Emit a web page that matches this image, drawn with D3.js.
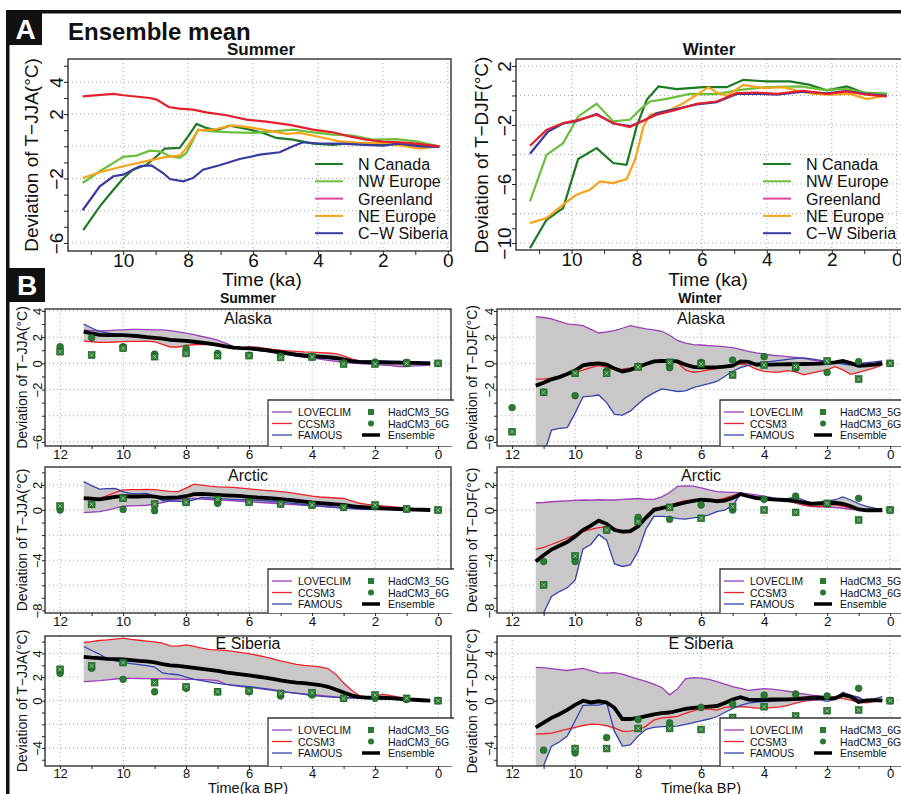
<!DOCTYPE html>
<html>
<head>
<meta charset="utf-8">
<title>Ensemble mean</title>
<script src="https://cdnjs.cloudflare.com/ajax/libs/d3/7.8.5/d3.min.js"></script>
<style>
  body { margin: 0; background: #fff; }
  svg { display: block; font-family: 'Liberation Sans', Arial, Helvetica, sans-serif; }
  .grid { stroke: #9c9c9c; stroke-width: 0.9; stroke-dasharray: 1,3; }
</style>
</head>
<body>
<svg></svg>
<script>
// ---- panel A: ensemble mean per region, [ka, deviation degC] ----
let regionsA = ['N Canada', 'NW Europe', 'Greenland', 'NE Europe', 'C-W Siberia']

let jjaNCanada = [[11.23,-5.2],[10.72,-3.73],[10.3,-2.7],[10,-2.0],[9.7,-1.45],[9.28,-1.14],[8.97,-0.62],[8.72,-0.14],[8.26,-0.1],[8.0,0.62],[7.74,1.39],[7.44,1.14],[7.13,0.99],[6.72,1.28],[6.2,1.08],[5.69,0.83],[5.28,0.52],[4.77,0.41],[4.15,0.17],[3.54,0.08],[2.92,0.21],[2.51,0.08],[1.49,0.2],[0.26,0]]
let jjaNWEurope = [[11.25,-2.28],[10.72,-1.55],[10.3,-1.03],[10,-0.66],[9.59,-0.58],[9.18,-0.27],[8.87,-0.31],[8.56,-0.62],[8.26,-0.72],[8.05,-0.41],[7.69,1.03],[7.23,0.93],[6.62,0.87],[6.0,0.83],[5.38,0.93],[4.77,1.03],[4.15,0.87],[3.54,0.72],[2.92,0.66],[2.31,0.41],[1.59,0.45],[0.97,0.31],[0.26,0]]
let jjaGreenland = [[11.25,3.1],[10.3,3.25],[10,3.17],[9.18,3.0],[8.97,2.9],[8.6,2.44],[8.26,2.34],[7.85,2.28],[7.44,2.11],[6.82,1.93],[6.2,1.66],[5.59,1.53],[4.87,1.33],[4.15,1.04],[3.54,0.87],[3.03,0.62],[2.51,0.41],[2.0,0.29],[1.49,0.25],[0.97,0.17],[0.26,0]]
let jjaNEEurope = [[11.25,-1.97],[10.72,-1.61],[10,-1.24],[9.18,-0.87],[8.67,-0.66],[8.26,-0.58],[8.05,-0.1],[7.69,0.99],[7.23,1.03],[6.62,1.3],[6.0,1.14],[5.38,0.93],[4.97,0.77],[4.56,0.83],[3.95,0.58],[3.33,0.31],[2.72,0.21],[2.0,0.21],[1.28,0],[0.87,-0.14],[0.26,0]]
let jjaCWSiberia = [[11.25,-3.97],[10.72,-2.48],[10.3,-1.86],[10,-1.76],[9.49,-1.24],[9.13,-1.18],[8.77,-1.66],[8.56,-2.03],[8.15,-2.17],[7.85,-1.97],[7.54,-1.45],[7.03,-1.18],[6.41,-0.79],[5.79,-0.52],[5.18,-0.37],[4.77,0],[4.46,0.25],[3.95,0.17],[3.33,0.17],[2.72,0.1],[2.0,0.04],[1.49,0.17],[0.87,0],[0.26,-0.04]]

let djfNCanada = [[11.28,-10.34],[10.77,-8.42],[10.26,-7.63],[9.8,-4.31],[9.23,-3.57],[8.72,-4.58],[8.31,-4.7],[8.0,-2.1],[7.69,-0.29],[7.33,0.61],[6.77,0.43],[5.95,0.56],[5.23,0.56],[4.72,1.06],[4.0,0.95],[3.28,0.95],[2.67,0.72],[2.15,0.34],[1.54,0.61],[1.03,0.2],[0.31,0.11]]
let djfNWEurope = [[11.28,-7.18],[10.77,-4.02],[10.26,-3.23],[9.8,-1.42],[9.23,-0.56],[8.72,-1.76],[8.21,-1.65],[7.85,-0.86],[7.59,-0.41],[7.08,-0.23],[6.36,0.11],[5.54,0.09],[4.82,0.38],[4.0,0.56],[2.97,0.61],[2.26,0.38],[1.54,0.43],[0.92,0.16],[0.31,0.11]]
let djfGreenland = [[11.28,-3.41],[10.77,-2.33],[10.26,-1.87],[9.85,-1.69],[9.23,-1.31],[8.72,-1.87],[8.21,-2.14],[7.79,-1.69],[7.38,-1.31],[6.77,-0.97],[6.15,-0.56],[5.54,-0.41],[4.92,0.16],[4.31,0.2],[3.69,0.11],[2.87,0.32],[2.15,0.11],[1.54,0.27],[0.92,0.05],[0.31,-0.07]]
let djfNEEurope = [[11.28,-8.65],[10.77,-8.31],[10.2,-7.29],[9.85,-6.73],[9.44,-6.39],[9.13,-5.82],[8.72,-5.94],[8.31,-5.67],[8.05,-4.36],[7.79,-2.1],[7.59,-1.31],[6.97,-0.97],[6.56,-0.52],[6.15,0.05],[5.79,0.56],[5.54,0.2],[5.23,-0.02],[4.72,0.72],[4.1,0.5],[3.49,0.56],[2.97,0.27],[2.56,0.11],[2.05,0.05],[1.44,0.11],[0.92,-0.25],[0.31,0]]
let djfCWSiberia = [[11.28,-3.95],[10.72,-2.44],[10.26,-1.9],[9.85,-1.75],[9.23,-1.25],[8.72,-1.9],[8.21,-2.08],[7.79,-1.72],[7.38,-1.2],[6.77,-0.9],[6.15,-0.6],[5.54,-0.45],[4.92,0.1],[4.31,0.12],[3.69,0.05],[2.87,0.25],[2.15,0.15],[1.54,0.3],[0.92,0.1],[0.31,-0.02]]

// ---- panel B: models on a shared time axis (ka BP) ----
let tB = [11.25,11,10.75,10.5,10.25,10,9.75,9.5,9.25,9,8.75,8.5,8.25,8,7.75,7.5,7.25,7,6.75,6.5,6.25,6,5.75,5.5,5.25,5,4.75,4.5,4.25,4,3.75,3.5,3.25,3,2.75,2.5,2.25,2,1.75,1.5,1.25,1,0.75,0.5,0.25]
let models = ['LOVECLIM', 'CCSM3', 'FAMOUS']

let alaskaJJA_LOVECLIM = [2.54,2.5,2.47,2.5,2.53,2.56,2.59,2.6,2.58,2.56,2.55,2.5,2.4,2.3,2.2,2.05,1.92,1.78,1.55,1.3,1.2,1.15,1.1,1.03,0.95,0.85,0.7,0.55,0.47,0.4,0.32,0.23,0.16,0.08,0.01,-0.02,-0.05,-0.09,-0.13,-0.18,-0.24,-0.24,-0.2,-0.17,-0.13]
let alaskaJJA_CCSM3 = [1.7,1.65,1.6,1.6,1.63,1.66,1.68,1.68,1.7,1.65,1.45,1.25,1.25,1.38,1.42,1.45,1.43,1.35,1.25,1.15,1.2,1.25,1.24,1.15,1.06,1.0,0.96,0.91,0.87,0.85,0.82,0.79,0.74,0.57,0.35,0.17,0.13,0.11,0.08,0.06,0.04,0.02,0,-0.02,-0.05]
let alaskaJJA_FAMOUS = [3.0,2.7,2.43,2.33,2.25,2.2,2.15,2.1,2.06,2.0,1.93,1.82,1.75,1.7,1.65,1.58,1.5,1.42,1.35,1.27,1.18,1.09,1.0,0.91,0.82,0.73,0.64,0.55,0.49,0.45,0.4,0.36,0.32,0.26,0.19,0.18,0.18,0.18,0.18,0.16,0.15,0.13,0.11,0.1,0.08]
let alaskaJJA_Ens = [2.42,2.28,2.17,2.15,2.16,2.16,2.12,2.07,2.0,1.95,1.88,1.8,1.76,1.71,1.65,1.58,1.5,1.41,1.3,1.2,1.16,1.14,1.09,1.02,0.93,0.85,0.76,0.67,0.6,0.56,0.51,0.47,0.41,0.3,0.17,0.11,0.1,0.09,0.08,0.06,0.05,0.04,0.03,0.02,0.0]

let alaskaDJF_LOVECLIM = [3.56,3.5,3.4,3.2,3.02,2.95,2.88,2.6,2.32,2.4,2.5,2.68,2.88,2.75,2.63,2.55,2.45,2.15,1.75,1.55,1.43,1.4,1.36,1.31,1.26,1.2,1.07,0.92,0.8,0.72,0.62,0.57,0.52,0.46,0.38,0.26,0.16,0.12,0.08,0.04,0,0,0,0,0]
let alaskaDJF_CCSM3 = [-1.2,-1.18,-1.12,-1.0,-0.88,-0.7,-0.52,-0.33,-0.15,-0.3,-0.48,-0.45,-0.35,-0.22,-0.05,0.12,0.16,0.12,0.05,-0.5,-0.68,-0.62,-0.5,-0.38,-0.24,-0.12,-0.03,-0.15,-0.45,-0.62,-0.67,-0.66,-0.55,-0.65,-0.88,-0.75,-0.62,-0.5,-0.25,-0.5,-0.84,-0.68,-0.52,-0.35,-0.13]
let alaskaDJF_FAMOUS = [-8.5,-7.0,-5.1,-4.96,-4.9,-3.8,-2.55,-2.5,-2.42,-3.0,-3.9,-3.95,-3.65,-3.1,-2.6,-2.25,-1.95,-2.05,-2.15,-2.1,-1.85,-1.7,-1.55,-1.38,-1.0,-0.6,-0.33,-0.15,0.0,0.08,0.15,0.22,0.3,0.38,0.42,0.35,0.25,0.15,0.05,-0.05,-0.13,-0.05,0.05,0.12,0.18]
let alaskaDJF_Ens = [-1.7,-1.48,-1.22,-1.05,-0.82,-0.55,-0.15,-0.05,0.0,-0.1,-0.4,-0.62,-0.5,-0.28,-0.05,0.15,0.18,0.18,0.15,-0.1,-0.27,-0.3,-0.31,-0.31,-0.25,-0.18,0.15,0.12,-0.1,-0.1,-0.09,-0.08,-0.07,-0.06,-0.05,-0.04,-0.02,0.02,0.08,0.18,0.02,-0.18,-0.15,-0.1,0]

let arcticJJA_LOVECLIM = [-0.21,-0.17,-0.13,0.0,0.15,0.3,0.33,0.35,0.38,0.47,0.6,0.74,0.83,0.88,0.93,0.88,0.84,0.8,0.77,0.74,0.7,0.66,0.62,0.58,0.54,0.49,0.45,0.41,0.37,0.33,0.3,0.26,0.21,0.16,0.12,0.1,0.08,0.07,0.05,0.04,0.03,0.02,0.01,0,0]
let arcticJJA_CCSM3 = [0.93,0.93,0.93,1.15,1.38,1.6,1.62,1.63,1.65,1.62,1.55,1.48,1.46,1.75,2.07,1.98,1.9,1.85,1.83,1.81,1.75,1.68,1.62,1.57,1.52,1.47,1.4,1.3,1.2,1.1,1.04,1.0,0.96,0.92,0.73,0.54,0.45,0.39,0.32,0.27,0.2,0.14,0.08,0.04,0]
let arcticJJA_FAMOUS = [2.26,1.95,1.66,1.7,1.73,1.45,1.3,1.3,1.33,1.1,0.76,0.72,0.69,0.66,0.8,1.0,0.96,0.93,0.89,0.85,0.82,0.8,0.77,0.74,0.68,0.63,0.57,0.5,0.44,0.38,0.31,0.25,0.19,0.15,0.11,0.08,0.05,0.04,0.03,0.03,0.02,0.02,0.01,0.01,0]
let arcticJJA_Ens = [0.95,0.9,0.85,0.95,1.05,1.1,1.08,1.08,1.1,1.06,0.97,0.98,1.0,1.1,1.27,1.29,1.24,1.2,1.17,1.15,1.1,1.05,1.0,0.97,0.92,0.87,0.81,0.74,0.67,0.6,0.55,0.5,0.45,0.41,0.32,0.24,0.2,0.17,0.13,0.11,0.08,0.06,0.03,0.02,0]

let arcticDJF_LOVECLIM = [0.58,0.6,0.66,0.7,0.73,0.77,0.8,0.78,0.82,0.8,0.8,0.85,0.88,0.92,0.85,0.85,1.05,1.4,1.88,1.92,1.9,1.76,1.6,1.46,1.43,1.4,1.36,1.29,1.2,1.1,0.98,0.86,0.72,0.55,0.4,0.27,0.25,0.23,0.2,0.13,0.06,0.0,-0.07,-0.1,-0.13]
let arcticDJF_CCSM3 = [-3.13,-2.97,-2.75,-2.5,-2.23,-1.98,-1.73,-1.55,-1.4,-1.35,-1.45,-1.82,-1.8,-1.4,-0.5,0.15,0.22,0.35,0.6,0.75,0.8,0.8,0.8,0.8,0.95,1.15,1.3,1.1,0.95,0.9,0.86,0.82,0.75,0.6,0.4,0.32,0.27,0.35,0.44,0.3,0.15,0.03,-0.03,-0.08,-0.13]
let arcticDJF_FAMOUS = [-10.0,-8.2,-6.9,-6.5,-6.2,-5.6,-3.1,-2.75,-1.95,-2.4,-4.3,-4.5,-4.38,-3.3,-1.5,-0.5,-0.5,-0.55,-0.68,-0.72,-0.62,-0.55,-0.38,-0.13,0.0,0.35,1.27,1.15,1.06,1.0,0.95,0.88,0.9,1.05,0.8,0.53,0.62,0.7,0.82,1.05,0.8,0.5,0.3,0.15,0]
let arcticDJF_Ens = [-4.11,-3.6,-3.15,-2.85,-2.55,-2.1,-1.6,-1.25,-0.85,-1.1,-1.6,-1.72,-1.68,-1.3,-0.6,0.0,0.15,0.3,0.45,0.6,0.72,0.82,0.78,0.7,0.75,0.95,1.27,1.1,0.95,0.9,0.85,0.82,0.78,0.72,0.6,0.5,0.52,0.55,0.58,0.5,0.3,0.05,-0.02,-0.02,0]

let esibJJA_LOVECLIM = [1.61,1.65,1.7,1.77,1.84,1.9,1.89,1.88,1.87,1.86,1.85,1.84,1.83,1.81,1.8,1.79,1.77,1.7,1.4,1.27,1.2,1.14,1.05,0.97,0.88,0.79,0.71,0.64,0.57,0.51,0.45,0.39,0.33,0.28,0.24,0.2,0.17,0.15,0.13,0.11,0.08,0.06,0.04,0.02,0]
let esibJJA_CCSM3 = [4.93,5.0,5.1,5.15,5.22,5.3,5.2,5.12,5.05,4.98,4.88,4.65,4.62,4.72,4.6,4.45,4.33,4.3,4.26,4.17,4.08,3.98,3.85,3.71,3.55,3.37,3.22,3.08,2.99,2.93,2.86,2.72,2.25,1.5,0.9,0.42,0.3,0.38,0.55,0.42,0.3,0.22,0.14,0.07,0]
let esibJJA_FAMOUS = [4.59,4.25,3.95,3.52,3.38,3.23,3.14,3.05,2.97,2.85,2.35,2.26,2.2,2.0,1.8,1.7,1.57,1.46,1.38,1.32,1.25,1.19,1.11,1.02,0.93,0.79,0.7,0.62,0.53,0.44,0.38,0.33,0.28,0.25,0.23,0.22,0.2,0.19,0.17,0.14,0.11,0.08,0.05,0.03,0]
let esibJJA_Ens = [3.72,3.65,3.6,3.55,3.52,3.5,3.43,3.37,3.33,3.25,3.1,3.0,2.95,2.87,2.78,2.7,2.62,2.52,2.4,2.32,2.23,2.15,2.05,1.95,1.84,1.72,1.62,1.54,1.48,1.41,1.33,1.18,0.95,0.7,0.45,0.3,0.26,0.25,0.25,0.22,0.18,0.12,0.08,0.04,0]

let esibDJF_LOVECLIM = [2.83,2.8,2.72,2.64,2.56,2.65,2.74,2.55,2.35,2.34,2.37,2.25,2.03,1.83,1.63,1.4,1.12,0.5,1.0,1.85,1.95,1.91,1.8,1.61,1.4,1.2,1.05,0.88,0.95,1.02,0.98,0.9,0.8,0.68,0.58,0.47,0.38,0.33,0.3,0.4,0.45,0.2,-0.08,0.0,0.06]
let esibDJF_CCSM3 = [-2.83,-2.8,-2.75,-2.57,-2.4,-2.25,-2.1,-1.98,-2.0,-2.12,-2.3,-2.6,-2.58,-2.5,-2.15,-1.65,-1.45,-1.4,-1.33,-1.08,-0.87,-0.68,-0.72,-0.79,-0.56,-0.51,-0.51,-0.55,-0.62,-0.62,-0.58,-0.53,-0.4,-0.2,-0.05,0.02,0.1,0.22,0.32,0.18,0.04,-0.15,-0.18,-0.05,0.06]
let esibDJF_FAMOUS = [-7.0,-5.5,-3.85,-3.5,-3.0,-1.7,-0.4,-0.37,-0.37,-0.2,-2.6,-3.85,-3.75,-3.0,-2.42,-2.25,-2.2,-2.18,-2.15,-2.0,-1.85,-1.7,-1.55,-1.36,-1.0,-0.65,-0.4,-0.2,-0.12,-0.08,-0.05,-0.02,0.0,0.03,0.05,0.08,0.1,-0.05,0.1,0.72,0.45,0.3,-0.1,0.15,0.34]
let esibDJF_Ens = [-2.27,-1.85,-1.45,-1.15,-0.78,-0.35,0.0,-0.15,-0.05,-0.15,-0.6,-1.55,-1.55,-1.45,-1.3,-1.15,-1.05,-1.0,-0.85,-0.7,-0.6,-0.55,-0.5,-0.45,-0.2,0.1,0.3,0.1,0.06,0.08,0.1,0.11,0.12,0.15,0.2,0.25,0.27,0.22,0.2,0.5,0.35,-0.1,0.02,0.05,0]

// HadCM3 snapshot runs, one per ka
let hadT = [12, 11, 10, 9, 8, 7, 6, 5, 4, 3, 2, 1, 0]
let alaskaJJA_5G = [0.89,0.64,1.15,0.51,0.76,0.59,0.59,0.45,0.48,-0.05,-0.05,0.0,0.0]
let alaskaJJA_6G = [1.27,1.96,1.27,0.71,1.15,0.76,0.62,0.55,0.51,0.05,0.1,0.08,0.0]
let alaskaDJF_5G = [-5.22,-2.21,-0.76,-0.76,-0.28,0.08,-0.05,-0.89,-0.13,-0.25,0.18,-1.2,0]
let alaskaDJF_6G = [-3.38,-2.21,-2.47,-0.59,-0.22,-0.33,0.08,0.25,0.51,-0.38,-0.69,0.13,0]
let arcticJJA_5G = [0.32,0.45,0.93,0.48,0.61,0.85,0.61,0.48,0.4,0.21,0.4,0.08,0]
let arcticJJA_6G = [0.0,0.45,0.05,-0.05,0.61,0.53,0.66,0.5,0.4,0.21,0.27,0.08,0]
let arcticDJF_5G = [null,-5.97,-3.66,-1.59,-0.93,0.21,-0.66,0.27,0.0,-0.19,0.53,-0.8,0]
let arcticDJF_6G = [null,-4.11,-4.11,-1.59,-0.58,-0.74,0.4,0.0,0.85,1.11,0.48,0.93,0]
let esibJJA_5G = [2.66,2.95,3.23,1.53,1.19,0.76,0.85,0.62,0.68,0.2,0.48,0.2,0]
let esibJJA_6G = [2.32,2.75,1.81,0.76,1.05,0.76,0.76,0.4,0.48,0.2,0.2,0.1,0]
let esibDJF_5G = [null,null,-4.05,-4.05,-2.35,-2.35,-2.44,-1.42,-0.51,-1.3,-0.85,-0.79,0]
let esibDJF_6G = [null,-4.19,-4.42,-3.12,-1.59,-1.87,-0.57,-0.28,0.48,0.57,0.4,1.05,0]

let colA = ['#1d7a23', '#6cbf3c', '#e3202b', '#f7a21b', '#3a3b9f']
let colAKey = ['#1d7a23', '#6cbf3c', '#e0489c', '#f7a21b', '#3a3b9f']
let colB = ['#9b3fba', '#ee2229', '#3344ad']
let green = '#2a7a32'

let svg = d3.select('svg').attr('width', 901).attr('height', 794)
let fmt = d3.format('d')
let clipN = 0

let makePanel = (o) => {
  let x = d3.scaleLinear().domain(o.xd).range([o.left, o.right])
  let y = d3.scaleLinear().domain(o.yd).range([o.top, o.bottom])
  let g = svg.append('g')
  let id = 'clip' + clipN++
  g.append('clipPath').attr('id', id).append('rect')
    .attr('x', o.left).attr('y', o.top)
    .attr('width', o.right - o.left).attr('height', o.bottom - o.top)

  g.append('g').selectAll('line').data(o.xGrid).enter().append('line')
    .attr('class', 'grid')
    .attr('x1', d => x(d)).attr('x2', d => x(d))
    .attr('y1', o.top).attr('y2', o.bottom)
  g.append('g').selectAll('line').data(o.yGrid).enter().append('line')
    .attr('class', 'grid')
    .attr('x1', o.left).attr('x2', o.right)
    .attr('y1', d => y(d)).attr('y2', d => y(d))

  let xAxis = d3.axisBottom(x).tickValues(o.xTicks).tickSize(o.tick)
    .tickFormat(d => o.xLabels.includes(d) ? fmt(d) : '')
  let gx = g.append('g').attr('transform', 'translate(0,' + o.bottom + ')').call(xAxis)
  gx.select('.domain').remove()
  gx.attr('font-size', o.xFs).attr('font-family', null).attr('color', '#222')
  gx.selectAll('text').attr('y', o.xOff).attr('dy', 0).attr('fill', '#111')

  let yAxis = d3.axisLeft(y).tickValues(o.yTicks).tickSize(o.tick)
    .tickFormat(d => o.yLabels.includes(d) ? fmt(d) : '')
  let gy = g.append('g').attr('transform', 'translate(' + o.left + ',0)').call(yAxis)
  gy.select('.domain').remove()
  gy.attr('font-size', o.yFs).attr('font-family', null).attr('color', '#222')
  gy.selectAll('text').attr('transform', 'rotate(-90)')
    .attr('x', 0).attr('y', -o.yOff).attr('dy', 0)
    .attr('text-anchor', 'middle').attr('fill', '#111')

  let body = g.append('g').attr('clip-path', 'url(#' + id + ')')
  g.append('rect').attr('x', o.left).attr('y', o.top)
    .attr('width', o.right - o.left).attr('height', o.bottom - o.top)
    .attr('fill', 'none').attr('stroke', '#222').attr('stroke-width', 1.3)
  return { x, y, body }
}

let text = (x, y, s, size, opts = {}) => svg.append('text')
  .attr('x', x).attr('y', y).text(s)
  .attr('font-size', size)
  .attr('font-weight', opts.bold ? 'bold' : null)
  .attr('text-anchor', opts.anchor || 'start')
  .attr('fill', opts.fill || '#111')

let vText = (x, y, s, size) => svg.append('text')
  .attr('transform', 'translate(' + x + ',' + y + ') rotate(-90)')
  .attr('text-anchor', 'middle').attr('font-size', size).attr('fill', '#111').text(s)

// frame and panel letters
let drawFrame = () => {
  svg.append('rect').attr('x', 6).attr('y', 10).attr('width', 895).attr('height', 3.5).attr('fill', '#111')
  svg.append('rect').attr('x', 6).attr('y', 10).attr('width', 3.5).attr('height', 784).attr('fill', '#111')
  svg.append('rect').attr('x', 9).attr('y', 13).attr('width', 33).attr('height', 32).attr('fill', '#111')
  svg.append('rect').attr('x', 9).attr('y', 268).attr('width', 36).attr('height', 34).attr('fill', '#111')
  text(25.5, 39, 'A', 28, { bold: true, anchor: 'middle', fill: '#fff' })
  text(27, 295, 'B', 28, { bold: true, anchor: 'middle', fill: '#fff' })
  text(68, 40, 'Ensemble mean', 24, { bold: true })
}

let drawA = (o) => {
  let p = makePanel(Object.assign({
    top: 59, bottom: 251, xTicks: d3.range(0, 12), xLabels: [10, 8, 6, 4, 2, 0], xGrid: [10, 8, 6, 4, 2, 0],
    tick: 4, xFs: 19, yFs: 19, xOff: 16, yOff: 5
  }, o))
  let line = d3.line().x(d => p.x(d[0])).y(d => p.y(d[1]))
  ;[0, 1, 3, 4, 2].forEach(i => {
    p.body.append('path').datum(o.series[i]).attr('d', line)
      .attr('fill', 'none').attr('stroke', colA[i]).attr('stroke-width', 2.2)
  })
  regionsA.forEach((r, i) => {
    let yy = 164 + i * 17.3
    svg.append('line').attr('x1', o.keyX).attr('x2', o.keyX + 28).attr('y1', yy).attr('y2', yy)
      .attr('stroke', colAKey[i]).attr('stroke-width', 2)
    text(o.keyX + 43, yy + 6, r.replace('-', '\u2212'), 16)
  })
  text(o.seasonX, 55, o.season, 17, { bold: true, anchor: 'middle' })
  text(o.timeX, 285.5, 'Time (ka)', 19, { anchor: 'middle' })
  vText(o.titleX, 155, o.ylab, 19)
}

let drawB = (o) => {
  let winter = o.col === 1
  let p = makePanel(Object.assign({
    left: winter ? 497 : 45, right: winter ? 904 : 451,
    xd: winter ? [12.48, -0.44] : [12.48, -0.41],
    xTicks: d3.range(0, 13), xLabels: [12, 10, 8, 6, 4, 2, 0], xGrid: [12, 10, 8, 6, 4, 2, 0],
    tick: 3, xFs: 13.5, yFs: 13, xOff: 13, yOff: 3
  }, o))
  let rows = tB.map((t, i) => [o.lov[i], o.ccsm[i], o.fam[i]])
  p.body.append('path').datum(rows)
    .attr('d', d3.area().x((d, i) => p.x(tB[i])).y0(d => p.y(d3.min(d))).y1(d => p.y(d3.max(d))))
    .attr('fill', '#c9c7c7')
  let line = d3.line().x((d, i) => p.x(tB[i])).y(d => p.y(d))
  ;[o.lov, o.ccsm, o.fam].forEach((s, k) => {
    p.body.append('path').datum(s).attr('d', line)
      .attr('fill', 'none').attr('stroke', colB[k]).attr('stroke-width', 1.3)
  })
  p.body.append('path').datum(o.ens).attr('d', line)
    .attr('fill', 'none').attr('stroke', '#000').attr('stroke-width', 3.8)

  let c6 = hadT.map((t, i) => [t, o.h6[i]]).filter(d => d[1] !== null)
  let c5 = hadT.map((t, i) => [t, o.h5[i]]).filter(d => d[1] !== null)
  p.body.append('g').selectAll('circle').data(c6).enter().append('circle')
    .attr('cx', d => p.x(d[0])).attr('cy', d => p.y(d[1])).attr('r', 3.4)
    .attr('fill', green).attr('stroke', '#1c5c24').attr('stroke-width', 0.6)
  let sq = p.body.append('g').selectAll('g').data(c5).enter().append('g')
    .attr('transform', d => 'translate(' + p.x(d[0]) + ',' + p.y(d[1]) + ')')
  sq.append('rect').attr('x', -3.4).attr('y', -3.4).attr('width', 6.8).attr('height', 6.8)
    .attr('fill', green).attr('stroke', '#1c5c24').attr('stroke-width', 0.6)
  sq.append('path').attr('d', 'M-1.8,-1.8L1.8,1.8M1.8,-1.8L-1.8,1.8')
    .attr('stroke', '#b9dcb9').attr('stroke-width', 0.7)

  // legend box
  let x0 = winter ? 720 : 268
  let top = o.keyTop
  let right = winter ? 904 : 454
  svg.append('rect').attr('x', x0).attr('y', top).attr('width', right - x0).attr('height', o.bottom - top)
    .attr('fill', '#fff')
  svg.append('path').attr('d', 'M' + x0 + ',' + o.bottom + 'V' + top + 'H' + right)
    .attr('fill', 'none').attr('stroke', '#333').attr('stroke-width', 1.3)
  let ry = [top + 12, top + 23.5, top + 35]
  models.forEach((m, k) => {
    svg.append('line').attr('x1', x0 + 4).attr('x2', x0 + 24).attr('y1', ry[k]).attr('y2', ry[k])
      .attr('stroke', colB[k]).attr('stroke-width', 1.3)
    text(x0 + 30, ry[k] + 4, m, 10.5)
  })
  svg.append('rect').attr('x', x0 + 100).attr('y', ry[0] - 3).attr('width', 6).attr('height', 6).attr('fill', green)
  svg.append('circle').attr('cx', x0 + 103).attr('cy', ry[1]).attr('r', 3).attr('fill', green)
  svg.append('line').attr('x1', x0 + 94).attr('x2', x0 + 112).attr('y1', ry[2]).attr('y2', ry[2])
    .attr('stroke', '#000').attr('stroke-width', 3.5)
  text(x0 + 120, ry[0] + 4, o.keyNames[0], 10.5)
  text(x0 + 120, ry[1] + 4, o.keyNames[1], 10.5)
  text(x0 + 120, ry[2] + 4, 'Ensemble', 10.5)

  text(winter ? 701 : 248, o.regionY, o.region, 16, { anchor: 'middle' })
  vText(winter ? 477 : 27, (o.top + o.bottom) / 2, winter ? 'Deviation of T\u2212DJF(\u00b0C)' : 'Deviation of T\u2212JJA(\u00b0C)', 14)
}

drawFrame()

drawA({
  left: 68, right: 451, xd: [11.7, -0.1], yd: [5.42, -6.5],
  yTicks: d3.range(-6, 6), yLabels: [4, 2, -2, -6], yGrid: [4, 2, 0, -2, -4, -6],
  series: [jjaNCanada, jjaNWEurope, jjaGreenland, jjaNEEurope, jjaCWSiberia],
  keyX: 315, season: 'Summer', seasonX: 261, timeX: 262, titleX: 38, ylab: 'Deviation of T\u2212JJA(\u00b0C)'
})
drawA({
  left: 516, right: 903, bottom: 250, xd: [11.71, -0.19], yd: [2.47, -10.47],
  yTicks: d3.range(-10, 3), yLabels: [2, -2, -6, -10], yGrid: [2, 0, -2, -4, -6, -8, -10],
  series: [djfNCanada, djfNWEurope, djfGreenland, djfNEEurope, djfCWSiberia],
  keyX: 763, season: 'Winter', seasonX: 709, timeX: 708, titleX: 488, ylab: 'Deviation of T\u2212DJF(\u00b0C)'
})

text(248, 303, 'Summer', 14, { bold: true, anchor: 'middle' })
text(700, 303, 'Winter', 14, { bold: true, anchor: 'middle' })

let alaskaRow = { top: 309, bottom: 446, yd: [4.15, -6.31], yTicks: d3.range(-6, 5), yLabels: [4, 2, 0, -2, -6], yGrid: [4, 2, 0, -2, -4, -6], region: 'Alaska', regionY: 324, keyTop: 400 }
let arcticRow = { top: 467, bottom: 613, yd: [3.43, -8.21], yTicks: d3.range(-8, 4), yLabels: [2, 0, -4, -8], yGrid: [2, 0, -2, -4, -6, -8], region: 'Arctic', regionY: 481, keyTop: 569 }
let esibRow = { top: 636, bottom: 766, yd: [5.48, -5.53], yTicks: d3.range(-5, 6), yLabels: [4, 2, 0, -4], yGrid: [4, 2, 0, -2, -4], region: 'E Siberia', regionY: 649, keyTop: 718, xOff: 11.5, xFs: 13 }
let had = ['HadCM3_5G', 'HadCM3_6G']

drawB(Object.assign({ col: 0, lov: alaskaJJA_LOVECLIM, ccsm: alaskaJJA_CCSM3, fam: alaskaJJA_FAMOUS, ens: alaskaJJA_Ens, h5: alaskaJJA_5G, h6: alaskaJJA_6G, keyNames: had }, alaskaRow))
drawB(Object.assign({ col: 1, lov: alaskaDJF_LOVECLIM, ccsm: alaskaDJF_CCSM3, fam: alaskaDJF_FAMOUS, ens: alaskaDJF_Ens, h5: alaskaDJF_5G, h6: alaskaDJF_6G, keyNames: had }, alaskaRow))
drawB(Object.assign({ col: 0, lov: arcticJJA_LOVECLIM, ccsm: arcticJJA_CCSM3, fam: arcticJJA_FAMOUS, ens: arcticJJA_Ens, h5: arcticJJA_5G, h6: arcticJJA_6G, keyNames: had }, arcticRow))
drawB(Object.assign({ col: 1, lov: arcticDJF_LOVECLIM, ccsm: arcticDJF_CCSM3, fam: arcticDJF_FAMOUS, ens: arcticDJF_Ens, h5: arcticDJF_5G, h6: arcticDJF_6G, keyNames: had }, arcticRow))
drawB(Object.assign({ col: 0, lov: esibJJA_LOVECLIM, ccsm: esibJJA_CCSM3, fam: esibJJA_FAMOUS, ens: esibJJA_Ens, h5: esibJJA_5G, h6: esibJJA_6G, keyNames: had }, esibRow))
drawB(Object.assign({ col: 1, lov: esibDJF_LOVECLIM, ccsm: esibDJF_CCSM3, fam: esibDJF_FAMOUS, ens: esibDJF_Ens, h5: esibDJF_5G, h6: esibDJF_6G, keyNames: ['HadCM3_6G', 'HadCM3_6G'] }, esibRow))

text(248, 792.5, 'Time(ka BP)', 14.5, { anchor: 'middle' })
text(701, 792.5, 'Time(ka BP)', 14.5, { anchor: 'middle' })
</script>
</body>
</html>
